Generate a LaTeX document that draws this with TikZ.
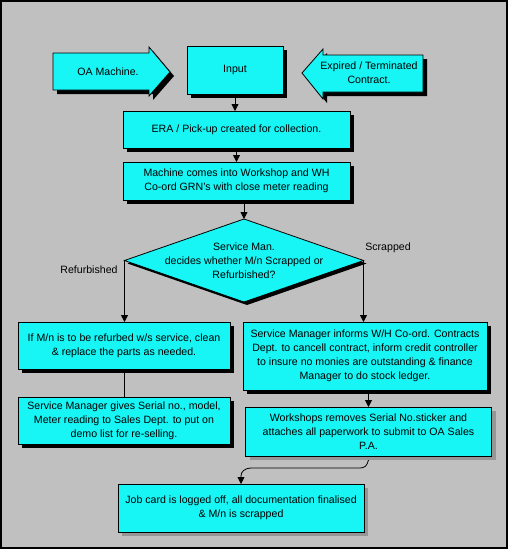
\documentclass[tikz,border=0pt]{standalone}
\usepackage{fontspec}
\setmainfont{Liberation Sans}
\usetikzlibrary{%
  arrows.meta,%
  shapes.geometric,% wg. diamond
  shadows,%
  calc%
}
\definecolor{bggray}{RGB}{192,192,192}
\definecolor{boxcyan}{RGB}{24,245,245}
\definecolor{shadegray}{RGB}{150,150,150}

\begin{document}
\begin{tikzpicture}[
  x=1pt, y=-1pt,
  font=\fontsize{10.6}{14}\selectfont,
  >={Triangle[length=7pt,width=7pt]},
  line width=0.8pt,
  boxbase/.style={rectangle, draw=black, fill=boxcyan, align=center, inner sep=0pt, outer sep=0pt, line width=0.8pt},
  stepbox/.style={boxbase, drop shadow={shadow xshift=4pt, shadow yshift=-4pt, fill=black, opacity=1}},
  lightbox/.style={boxbase, drop shadow={shadow xshift=4pt, shadow yshift=-4pt, fill=shadegray, opacity=1}},
  decision/.style={diamond, draw=black, fill=boxcyan, inner sep=0pt, outer sep=0pt, line width=0.8pt,
    minimum width=239pt, minimum height=83pt,
    drop shadow={shadow xshift=3pt, shadow yshift=-3pt, fill=black, opacity=1}},
  arrowshape/.style={draw=black, fill=boxcyan, line width=0.8pt,
    drop shadow={shadow xshift=4pt, shadow yshift=-4pt, fill=black, opacity=1}}
]

\useasboundingbox (0,0) rectangle (508,549);
\fill[bggray] (0,0) rectangle (508,549);
\draw[line width=2pt] (1,1) rectangle (507,548);

% side inputs
\draw[arrowshape] (53,53) -- (149,53) -- (149,47) -- (170,72) -- (149,96) -- (149,90) -- (53,90) -- cycle;
\draw[arrowshape] (423,55) -- (323,55) -- (323,49) -- (302,73) -- (323,99) -- (323,92) -- (423,92) -- cycle;
\node (oa) at (108,72) {OA Machine.};
\node[align=center] (expired) at (369,73) {Expired / Terminated\\Contract.};

\node[stepbox, minimum width=96pt, minimum height=48pt] (input) at (235,70) {Input};
\node[stepbox, minimum width=227pt, minimum height=37pt] (era) at (236.5,129.5) {ERA / Pick-up created for collection.};
\node[stepbox, minimum width=227pt, minimum height=38pt] (machine) at (236.5,181) {Machine comes into Workshop and WH\\Co-ord GRN's with close meter reading};

\node[decision] (decide) at (244,260.5) {};
\node[align=center] (question) at (decide.center) {Service Man.\\decides whether M/n Scrapped or\\Refurbished?};
\node (refurbed) at (89,270) {Refurbished};
\node (scrapped) at (388,248) {Scrapped};

% refurbished branch
\node[stepbox, minimum width=212pt, minimum height=47pt] (refurb) at (124,345.5) {If M/n is to be refurbed w/s service, clean\\\& replace the parts as needed.};
\node[stepbox, minimum width=212pt, minimum height=47pt] (resell) at (124,420.5) {Service Manager gives Serial no., model,\\Meter reading to Sales Dept. to put on\\demo list for re-selling.};

% scrapped branch
\node[stepbox, minimum width=244pt, minimum height=68pt] (scrapinfo) at (365,356) {Service Manager informs W/H Co-ord. Contracts\\Dept. to cancell contract, inform credit controller\\to insure no monies are outstanding \& finance\\Manager to do stock ledger.};
\node[lightbox, minimum width=246pt, minimum height=49pt] (workshop) at (368.5,431.5) {Workshops removes Serial No.sticker and\\attaches all paperwork to submit to OA Sales\\P.A.};
\node[lightbox, minimum width=246pt, minimum height=48pt] (jobcard) at (241,508) {Job card is logged off, all documentation finalised\\\& M/n is scrapped};

\draw[->] (input.south) -- (input.south |- era.north);
\draw[->] (era.south) -- (era.south |- machine.north);
\draw[->] (decide.north |- machine.south) -- (decide.north);
\draw[->] (decide.west) -- (decide.west |- refurb.north);
\draw[->] (decide.east) -- (decide.east |- scrapinfo.north);
\draw (refurb.south) -- (resell.north);
\draw[->] (workshop.north |- scrapinfo.south) -- (workshop.north);

\coordinate (wsout) at ([yshift=-4pt]workshop.south);
\coordinate (jobin) at ($(jobcard.north)+(0,-8)$);
\draw[->] (wsout) .. controls +(-2,6) and +(8,0) .. (358,468) -- (252,468) .. controls +(-8,0) and +(0,-4) .. (jobin) -- (jobcard.north);

\end{tikzpicture}
\end{document}
